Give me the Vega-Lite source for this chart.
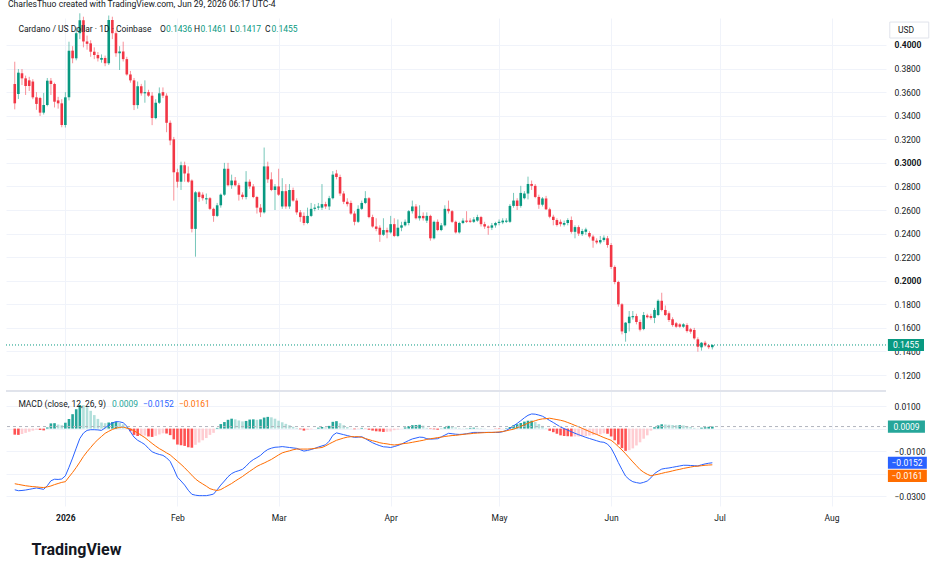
{
  "$schema": "https://vega.github.io/schema/vega-lite/v6.json",
  "background": "white",
  "padding": {"left": 5, "top": 0, "right": 0, "bottom": 0},
  "title": {"text": "TradingView", "orient": "bottom", "anchor": "start", "fontSize": 16, "fontWeight": "bold", "offset": 20, "dx": 26, "color": "#131722"},
  "data": {
    "format": {"parse": {"d": "date"}},
    "values": [
      {"d":"2025-12-18","o":0.3669,"h":0.3858,"l":0.3454,"c":0.3505,"m":-0.0272,"s":-0.0245,"hi":-0.0027},
      {"d":"2025-12-19","o":0.3584,"h":0.3796,"l":0.3542,"c":0.3765,"m":-0.0276,"s":-0.0248,"hi":-0.0028},
      {"d":"2025-12-20","o":0.3760,"h":0.3796,"l":0.3660,"c":0.3717,"m":-0.0275,"s":-0.0251,"hi":-0.0024},
      {"d":"2025-12-21","o":0.3717,"h":0.3740,"l":0.3576,"c":0.3652,"m":-0.0273,"s":-0.0254,"hi":-0.0019},
      {"d":"2025-12-22","o":0.3700,"h":0.3730,"l":0.3610,"c":0.3652,"m":-0.0270,"s":-0.0256,"hi":-0.0014},
      {"d":"2025-12-23","o":0.3690,"h":0.3710,"l":0.3540,"c":0.3556,"m":-0.0267,"s":-0.0258,"hi":-0.0009},
      {"d":"2025-12-24","o":0.3556,"h":0.3600,"l":0.3450,"c":0.3500,"m":-0.0264,"s":-0.0259,"hi":-0.0005},
      {"d":"2025-12-25","o":0.3550,"h":0.3560,"l":0.3398,"c":0.3426,"m":-0.0267,"s":-0.0261,"hi":-0.0006},
      {"d":"2025-12-26","o":0.3426,"h":0.3593,"l":0.3410,"c":0.3491,"m":-0.0270,"s":-0.0262,"hi":-0.0008},
      {"d":"2025-12-27","o":0.3491,"h":0.3720,"l":0.3480,"c":0.3697,"m":-0.0254,"s":-0.0259,"hi":0.0005},
      {"d":"2025-12-28","o":0.3697,"h":0.3720,"l":0.3576,"c":0.3669,"m":-0.0232,"s":-0.0255,"hi":0.0023},
      {"d":"2025-12-29","o":0.3669,"h":0.3680,"l":0.3470,"c":0.3519,"m":-0.0225,"s":-0.0249,"hi":0.0024},
      {"d":"2025-12-30","o":0.3530,"h":0.3560,"l":0.3460,"c":0.3505,"m":-0.0226,"s":-0.0244,"hi":0.0018},
      {"d":"2025-12-31","o":0.3505,"h":0.3540,"l":0.3302,"c":0.3321,"m":-0.0224,"s":-0.0239,"hi":0.0015},
      {"d":"2026-01-01","o":0.3321,"h":0.3600,"l":0.3300,"c":0.3556,"m":-0.0210,"s":-0.0236,"hi":0.0026},
      {"d":"2026-01-02","o":0.3556,"h":0.4028,"l":0.3530,"c":0.3952,"m":-0.0172,"s":-0.0215,"hi":0.0043},
      {"d":"2026-01-03","o":0.3952,"h":0.3990,"l":0.3845,"c":0.3887,"m":-0.0131,"s":-0.0195,"hi":0.0064},
      {"d":"2026-01-04","o":0.3887,"h":0.4150,"l":0.3870,"c":0.4100,"m":-0.0087,"s":-0.0173,"hi":0.0086},
      {"d":"2026-01-05","o":0.4100,"h":0.4269,"l":0.4050,"c":0.4210,"m":-0.0044,"s":-0.0149,"hi":0.0105},
      {"d":"2026-01-06","o":0.4210,"h":0.4240,"l":0.3980,"c":0.4030,"m":-0.0020,"s":-0.0124,"hi":0.0104},
      {"d":"2026-01-07","o":0.4030,"h":0.4080,"l":0.3960,"c":0.4010,"m":-0.0008,"s":-0.0103,"hi":0.0095},
      {"d":"2026-01-08","o":0.4014,"h":0.4040,"l":0.3900,"c":0.3943,"m":-0.0005,"s":-0.0084,"hi":0.0079},
      {"d":"2026-01-09","o":0.3943,"h":0.3980,"l":0.3880,"c":0.3915,"m":-0.0005,"s":-0.0065,"hi":0.0060},
      {"d":"2026-01-10","o":0.3915,"h":0.3940,"l":0.3860,"c":0.3887,"m":-0.0006,"s":-0.0049,"hi":0.0043},
      {"d":"2026-01-11","o":0.3875,"h":0.3920,"l":0.3850,"c":0.3890,"m":-0.0008,"s":-0.0035,"hi":0.0027},
      {"d":"2026-01-12","o":0.3890,"h":0.3910,"l":0.3820,"c":0.3845,"m":0.0003,"s":-0.0021,"hi":0.0024},
      {"d":"2026-01-13","o":0.3845,"h":0.4250,"l":0.3830,"c":0.4212,"m":0.0015,"s":-0.0012,"hi":0.0027},
      {"d":"2026-01-14","o":0.4212,"h":0.4240,"l":0.4050,"c":0.4100,"m":0.0025,"s":-0.0004,"hi":0.0029},
      {"d":"2026-01-15","o":0.4100,"h":0.4120,"l":0.3900,"c":0.3930,"m":0.0031,"s":0.0002,"hi":0.0029},
      {"d":"2026-01-16","o":0.3930,"h":0.3990,"l":0.3788,"c":0.3945,"m":0.0030,"s":0.0005,"hi":0.0025},
      {"d":"2026-01-17","o":0.3945,"h":0.4028,"l":0.3860,"c":0.3880,"m":0.0026,"s":0.0007,"hi":0.0019},
      {"d":"2026-01-18","o":0.3880,"h":0.3900,"l":0.3740,"c":0.3750,"m":0.0011,"s":0.0002,"hi":0.0009},
      {"d":"2026-01-19","o":0.3750,"h":0.3780,"l":0.3680,"c":0.3700,"m":-0.0014,"s":-0.0002,"hi":-0.0012},
      {"d":"2026-01-20","o":0.3700,"h":0.3720,"l":0.3448,"c":0.3490,"m":-0.0038,"s":-0.0010,"hi":-0.0028},
      {"d":"2026-01-21","o":0.3490,"h":0.3690,"l":0.3460,"c":0.3650,"m":-0.0052,"s":-0.0019,"hi":-0.0033},
      {"d":"2026-01-22","o":0.3650,"h":0.3670,"l":0.3570,"c":0.3590,"m":-0.0061,"s":-0.0030,"hi":-0.0031},
      {"d":"2026-01-23","o":0.3590,"h":0.3700,"l":0.3510,"c":0.3600,"m":-0.0071,"s":-0.0040,"hi":-0.0031},
      {"d":"2026-01-24","o":0.3600,"h":0.3620,"l":0.3560,"c":0.3570,"m":-0.0088,"s":-0.0053,"hi":-0.0035},
      {"d":"2026-01-25","o":0.3570,"h":0.3600,"l":0.3320,"c":0.3380,"m":-0.0103,"s":-0.0066,"hi":-0.0037},
      {"d":"2026-01-26","o":0.3380,"h":0.3540,"l":0.3370,"c":0.3510,"m":-0.0110,"s":-0.0078,"hi":-0.0032},
      {"d":"2026-01-27","o":0.3510,"h":0.3640,"l":0.3500,"c":0.3590,"m":-0.0115,"s":-0.0089,"hi":-0.0026},
      {"d":"2026-01-28","o":0.3600,"h":0.3640,"l":0.3550,"c":0.3570,"m":-0.0119,"s":-0.0098,"hi":-0.0021},
      {"d":"2026-01-29","o":0.3570,"h":0.3590,"l":0.3260,"c":0.3340,"m":-0.0130,"s":-0.0108,"hi":-0.0022},
      {"d":"2026-01-30","o":0.3340,"h":0.3360,"l":0.3150,"c":0.3190,"m":-0.0146,"s":-0.0117,"hi":-0.0029},
      {"d":"2026-01-31","o":0.3200,"h":0.3220,"l":0.2680,"c":0.2920,"m":-0.0179,"s":-0.0131,"hi":-0.0048},
      {"d":"2026-02-01","o":0.2920,"h":0.2950,"l":0.2790,"c":0.2840,"m":-0.0216,"s":-0.0145,"hi":-0.0071},
      {"d":"2026-02-02","o":0.2840,"h":0.3010,"l":0.2770,"c":0.2980,"m":-0.0233,"s":-0.0159,"hi":-0.0074},
      {"d":"2026-02-03","o":0.2980,"h":0.3010,"l":0.2840,"c":0.2910,"m":-0.0251,"s":-0.0174,"hi":-0.0077},
      {"d":"2026-02-04","o":0.2910,"h":0.2970,"l":0.2830,"c":0.2840,"m":-0.0274,"s":-0.0191,"hi":-0.0083},
      {"d":"2026-02-05","o":0.2850,"h":0.2860,"l":0.2410,"c":0.2440,"m":-0.0292,"s":-0.0207,"hi":-0.0085},
      {"d":"2026-02-06","o":0.2440,"h":0.2760,"l":0.2204,"c":0.2750,"m":-0.0296,"s":-0.0224,"hi":-0.0072},
      {"d":"2026-02-07","o":0.2750,"h":0.2760,"l":0.2670,"c":0.2710,"m":-0.0298,"s":-0.0236,"hi":-0.0062},
      {"d":"2026-02-08","o":0.2730,"h":0.2750,"l":0.2680,"c":0.2700,"m":-0.0298,"s":-0.0246,"hi":-0.0052},
      {"d":"2026-02-09","o":0.2690,"h":0.2740,"l":0.2650,"c":0.2700,"m":-0.0298,"s":-0.0256,"hi":-0.0042},
      {"d":"2026-02-10","o":0.2700,"h":0.2710,"l":0.2600,"c":0.2610,"m":-0.0295,"s":-0.0267,"hi":-0.0028},
      {"d":"2026-02-11","o":0.2610,"h":0.2620,"l":0.2500,"c":0.2550,"m":-0.0291,"s":-0.0272,"hi":-0.0019},
      {"d":"2026-02-12","o":0.2550,"h":0.2660,"l":0.2540,"c":0.2640,"m":-0.0272,"s":-0.0275,"hi":0.0003},
      {"d":"2026-02-13","o":0.2640,"h":0.2740,"l":0.2620,"c":0.2730,"m":-0.0251,"s":-0.0271,"hi":0.0020},
      {"d":"2026-02-14","o":0.2730,"h":0.3000,"l":0.2720,"c":0.2950,"m":-0.0233,"s":-0.0262,"hi":0.0029},
      {"d":"2026-02-15","o":0.2950,"h":0.3000,"l":0.2800,"c":0.2810,"m":-0.0214,"s":-0.0253,"hi":0.0039},
      {"d":"2026-02-16","o":0.2810,"h":0.2900,"l":0.2780,"c":0.2850,"m":-0.0200,"s":-0.0244,"hi":0.0044},
      {"d":"2026-02-17","o":0.2850,"h":0.2880,"l":0.2800,"c":0.2810,"m":-0.0192,"s":-0.0233,"hi":0.0041},
      {"d":"2026-02-18","o":0.2810,"h":0.2830,"l":0.2680,"c":0.2730,"m":-0.0187,"s":-0.0223,"hi":0.0036},
      {"d":"2026-02-19","o":0.2730,"h":0.2750,"l":0.2690,"c":0.2710,"m":-0.0181,"s":-0.0213,"hi":0.0032},
      {"d":"2026-02-20","o":0.2710,"h":0.2930,"l":0.2690,"c":0.2840,"m":-0.0167,"s":-0.0201,"hi":0.0034},
      {"d":"2026-02-21","o":0.2840,"h":0.2860,"l":0.2780,"c":0.2800,"m":-0.0150,"s":-0.0190,"hi":0.0040},
      {"d":"2026-02-22","o":0.2800,"h":0.2820,"l":0.2700,"c":0.2710,"m":-0.0138,"s":-0.0179,"hi":0.0041},
      {"d":"2026-02-23","o":0.2710,"h":0.2720,"l":0.2570,"c":0.2620,"m":-0.0129,"s":-0.0168,"hi":0.0039},
      {"d":"2026-02-24","o":0.2620,"h":0.2650,"l":0.2540,"c":0.2580,"m":-0.0119,"s":-0.0160,"hi":0.0041},
      {"d":"2026-02-25","o":0.2580,"h":0.3130,"l":0.2570,"c":0.2970,"m":-0.0104,"s":-0.0153,"hi":0.0049},
      {"d":"2026-02-26","o":0.2970,"h":0.3010,"l":0.2830,"c":0.2860,"m":-0.0093,"s":-0.0145,"hi":0.0052},
      {"d":"2026-02-27","o":0.2860,"h":0.2920,"l":0.2760,"c":0.2770,"m":-0.0087,"s":-0.0137,"hi":0.0050},
      {"d":"2026-02-28","o":0.2770,"h":0.2820,"l":0.2600,"c":0.2800,"m":-0.0083,"s":-0.0127,"hi":0.0044},
      {"d":"2026-03-01","o":0.2800,"h":0.2950,"l":0.2720,"c":0.2730,"m":-0.0082,"s":-0.0117,"hi":0.0035},
      {"d":"2026-03-02","o":0.2630,"h":0.2870,"l":0.2610,"c":0.2760,"m":-0.0080,"s":-0.0108,"hi":0.0028},
      {"d":"2026-03-03","o":0.2760,"h":0.2820,"l":0.2610,"c":0.2630,"m":-0.0082,"s":-0.0103,"hi":0.0021},
      {"d":"2026-03-04","o":0.2630,"h":0.2820,"l":0.2610,"c":0.2770,"m":-0.0084,"s":-0.0099,"hi":0.0015},
      {"d":"2026-03-05","o":0.2770,"h":0.2790,"l":0.2670,"c":0.2680,"m":-0.0086,"s":-0.0094,"hi":0.0008},
      {"d":"2026-03-06","o":0.2680,"h":0.2700,"l":0.2560,"c":0.2580,"m":-0.0088,"s":-0.0091,"hi":0.0003},
      {"d":"2026-03-07","o":0.2580,"h":0.2600,"l":0.2500,"c":0.2540,"m":-0.0094,"s":-0.0091,"hi":-0.0003},
      {"d":"2026-03-08","o":0.2550,"h":0.2580,"l":0.2470,"c":0.2490,"m":-0.0100,"s":-0.0091,"hi":-0.0009},
      {"d":"2026-03-09","o":0.2490,"h":0.2620,"l":0.2480,"c":0.2550,"m":-0.0097,"s":-0.0091,"hi":-0.0006},
      {"d":"2026-03-10","o":0.2550,"h":0.2660,"l":0.2540,"c":0.2610,"m":-0.0093,"s":-0.0090,"hi":-0.0003},
      {"d":"2026-03-11","o":0.2610,"h":0.2650,"l":0.2590,"c":0.2620,"m":-0.0088,"s":-0.0088,"hi":0.0000},
      {"d":"2026-03-12","o":0.2620,"h":0.2660,"l":0.2600,"c":0.2630,"m":-0.0082,"s":-0.0086,"hi":0.0004},
      {"d":"2026-03-13","o":0.2620,"h":0.2820,"l":0.2600,"c":0.2650,"m":-0.0077,"s":-0.0084,"hi":0.0007},
      {"d":"2026-03-14","o":0.2650,"h":0.2670,"l":0.2610,"c":0.2630,"m":-0.0072,"s":-0.0077,"hi":0.0005},
      {"d":"2026-03-15","o":0.2630,"h":0.2720,"l":0.2600,"c":0.2700,"m":-0.0056,"s":-0.0068,"hi":0.0012},
      {"d":"2026-03-16","o":0.2700,"h":0.2930,"l":0.2690,"c":0.2900,"m":-0.0030,"s":-0.0060,"hi":0.0030},
      {"d":"2026-03-17","o":0.2910,"h":0.2940,"l":0.2860,"c":0.2880,"m":-0.0019,"s":-0.0052,"hi":0.0033},
      {"d":"2026-03-18","o":0.2880,"h":0.2900,"l":0.2720,"c":0.2740,"m":-0.0023,"s":-0.0047,"hi":0.0024},
      {"d":"2026-03-19","o":0.2740,"h":0.2760,"l":0.2650,"c":0.2670,"m":-0.0027,"s":-0.0042,"hi":0.0015},
      {"d":"2026-03-20","o":0.2670,"h":0.2700,"l":0.2630,"c":0.2650,"m":-0.0031,"s":-0.0038,"hi":0.0007},
      {"d":"2026-03-21","o":0.2660,"h":0.2680,"l":0.2560,"c":0.2570,"m":-0.0035,"s":-0.0036,"hi":0.0001},
      {"d":"2026-03-22","o":0.2570,"h":0.2590,"l":0.2470,"c":0.2500,"m":-0.0039,"s":-0.0036,"hi":-0.0003},
      {"d":"2026-03-23","o":0.2500,"h":0.2640,"l":0.2490,"c":0.2610,"m":-0.0038,"s":-0.0036,"hi":-0.0002},
      {"d":"2026-03-24","o":0.2610,"h":0.2680,"l":0.2600,"c":0.2660,"m":-0.0036,"s":-0.0039,"hi":0.0003},
      {"d":"2026-03-25","o":0.2660,"h":0.2760,"l":0.2650,"c":0.2700,"m":-0.0045,"s":-0.0044,"hi":-0.0001},
      {"d":"2026-03-26","o":0.2700,"h":0.2710,"l":0.2530,"c":0.2540,"m":-0.0054,"s":-0.0049,"hi":-0.0005},
      {"d":"2026-03-27","o":0.2540,"h":0.2560,"l":0.2450,"c":0.2460,"m":-0.0063,"s":-0.0054,"hi":-0.0009},
      {"d":"2026-03-28","o":0.2460,"h":0.2530,"l":0.2420,"c":0.2440,"m":-0.0070,"s":-0.0058,"hi":-0.0012},
      {"d":"2026-03-29","o":0.2450,"h":0.2470,"l":0.2330,"c":0.2390,"m":-0.0076,"s":-0.0063,"hi":-0.0013},
      {"d":"2026-03-30","o":0.2390,"h":0.2530,"l":0.2380,"c":0.2430,"m":-0.0081,"s":-0.0066,"hi":-0.0015},
      {"d":"2026-03-31","o":0.2430,"h":0.2450,"l":0.2360,"c":0.2410,"m":-0.0082,"s":-0.0068,"hi":-0.0014},
      {"d":"2026-04-01","o":0.2410,"h":0.2550,"l":0.2400,"c":0.2480,"m":-0.0084,"s":-0.0071,"hi":-0.0013},
      {"d":"2026-04-02","o":0.2480,"h":0.2530,"l":0.2370,"c":0.2380,"m":-0.0080,"s":-0.0073,"hi":-0.0007},
      {"d":"2026-04-03","o":0.2380,"h":0.2520,"l":0.2370,"c":0.2450,"m":-0.0075,"s":-0.0071,"hi":-0.0004},
      {"d":"2026-04-04","o":0.2450,"h":0.2500,"l":0.2420,"c":0.2470,"m":-0.0069,"s":-0.0068,"hi":-0.0001},
      {"d":"2026-04-05","o":0.2470,"h":0.2520,"l":0.2460,"c":0.2500,"m":-0.0061,"s":-0.0066,"hi":0.0005},
      {"d":"2026-04-06","o":0.2490,"h":0.2600,"l":0.2470,"c":0.2590,"m":-0.0053,"s":-0.0064,"hi":0.0011},
      {"d":"2026-04-07","o":0.2590,"h":0.2680,"l":0.2570,"c":0.2630,"m":-0.0046,"s":-0.0061,"hi":0.0015},
      {"d":"2026-04-08","o":0.2630,"h":0.2650,"l":0.2520,"c":0.2530,"m":-0.0042,"s":-0.0058,"hi":0.0016},
      {"d":"2026-04-09","o":0.2530,"h":0.2640,"l":0.2510,"c":0.2550,"m":-0.0038,"s":-0.0055,"hi":0.0017},
      {"d":"2026-04-10","o":0.2550,"h":0.2580,"l":0.2510,"c":0.2530,"m":-0.0039,"s":-0.0052,"hi":0.0013},
      {"d":"2026-04-11","o":0.2510,"h":0.2580,"l":0.2490,"c":0.2550,"m":-0.0045,"s":-0.0048,"hi":0.0003},
      {"d":"2026-04-12","o":0.2550,"h":0.2560,"l":0.2340,"c":0.2360,"m":-0.0047,"s":-0.0045,"hi":-0.0002},
      {"d":"2026-04-13","o":0.2360,"h":0.2510,"l":0.2350,"c":0.2500,"m":-0.0046,"s":-0.0043,"hi":-0.0003},
      {"d":"2026-04-14","o":0.2500,"h":0.2520,"l":0.2420,"c":0.2430,"m":-0.0045,"s":-0.0040,"hi":-0.0005},
      {"d":"2026-04-15","o":0.2430,"h":0.2490,"l":0.2420,"c":0.2470,"m":-0.0037,"s":-0.0038,"hi":0.0001},
      {"d":"2026-04-16","o":0.2470,"h":0.2640,"l":0.2460,"c":0.2610,"m":-0.0029,"s":-0.0035,"hi":0.0006},
      {"d":"2026-04-17","o":0.2610,"h":0.2680,"l":0.2570,"c":0.2590,"m":-0.0021,"s":-0.0033,"hi":0.0012},
      {"d":"2026-04-18","o":0.2590,"h":0.2600,"l":0.2490,"c":0.2500,"m":-0.0023,"s":-0.0031,"hi":0.0008},
      {"d":"2026-04-19","o":0.2500,"h":0.2510,"l":0.2400,"c":0.2410,"m":-0.0025,"s":-0.0030,"hi":0.0005},
      {"d":"2026-04-20","o":0.2410,"h":0.2500,"l":0.2400,"c":0.2490,"m":-0.0026,"s":-0.0028,"hi":0.0002},
      {"d":"2026-04-21","o":0.2490,"h":0.2530,"l":0.2480,"c":0.2510,"m":-0.0025,"s":-0.0026,"hi":0.0001},
      {"d":"2026-04-22","o":0.2510,"h":0.2590,"l":0.2490,"c":0.2500,"m":-0.0023,"s":-0.0024,"hi":0.0001},
      {"d":"2026-04-23","o":0.2510,"h":0.2530,"l":0.2490,"c":0.2500,"m":-0.0020,"s":-0.0023,"hi":0.0003},
      {"d":"2026-04-24","o":0.2500,"h":0.2540,"l":0.2490,"c":0.2520,"m":-0.0017,"s":-0.0021,"hi":0.0004},
      {"d":"2026-04-25","o":0.2510,"h":0.2560,"l":0.2500,"c":0.2540,"m":-0.0017,"s":-0.0020,"hi":0.0003},
      {"d":"2026-04-26","o":0.2540,"h":0.2550,"l":0.2460,"c":0.2480,"m":-0.0017,"s":-0.0019,"hi":0.0002},
      {"d":"2026-04-27","o":0.2480,"h":0.2500,"l":0.2440,"c":0.2460,"m":-0.0017,"s":-0.0018,"hi":0.0001},
      {"d":"2026-04-28","o":0.2460,"h":0.2470,"l":0.2390,"c":0.2450,"m":-0.0017,"s":-0.0017,"hi":0.0000},
      {"d":"2026-04-29","o":0.2450,"h":0.2490,"l":0.2430,"c":0.2470,"m":-0.0017,"s":-0.0017,"hi":0.0000},
      {"d":"2026-04-30","o":0.2470,"h":0.2500,"l":0.2450,"c":0.2490,"m":-0.0017,"s":-0.0016,"hi":-0.0001},
      {"d":"2026-05-01","o":0.2490,"h":0.2520,"l":0.2470,"c":0.2500,"m":-0.0017,"s":-0.0015,"hi":-0.0002},
      {"d":"2026-05-02","o":0.2495,"h":0.2530,"l":0.2480,"c":0.2510,"m":-0.0014,"s":-0.0013,"hi":-0.0001},
      {"d":"2026-05-03","o":0.2500,"h":0.2530,"l":0.2490,"c":0.2510,"m":-0.0008,"s":-0.0010,"hi":0.0002},
      {"d":"2026-05-04","o":0.2500,"h":0.2650,"l":0.2490,"c":0.2635,"m":0.0001,"s":-0.0006,"hi":0.0007},
      {"d":"2026-05-05","o":0.2635,"h":0.2745,"l":0.2620,"c":0.2680,"m":0.0012,"s":-0.0003,"hi":0.0015},
      {"d":"2026-05-06","o":0.2680,"h":0.2700,"l":0.2600,"c":0.2635,"m":0.0023,"s":0.0004,"hi":0.0019},
      {"d":"2026-05-07","o":0.2635,"h":0.2805,"l":0.2620,"c":0.2745,"m":0.0035,"s":0.0010,"hi":0.0025},
      {"d":"2026-05-08","o":0.2700,"h":0.2760,"l":0.2690,"c":0.2740,"m":0.0048,"s":0.0017,"hi":0.0031},
      {"d":"2026-05-09","o":0.2740,"h":0.2883,"l":0.2690,"c":0.2821,"m":0.0059,"s":0.0024,"hi":0.0035},
      {"d":"2026-05-10","o":0.2821,"h":0.2850,"l":0.2770,"c":0.2805,"m":0.0065,"s":0.0030,"hi":0.0035},
      {"d":"2026-05-11","o":0.2805,"h":0.2820,"l":0.2700,"c":0.2711,"m":0.0064,"s":0.0035,"hi":0.0029},
      {"d":"2026-05-12","o":0.2711,"h":0.2730,"l":0.2610,"c":0.2645,"m":0.0060,"s":0.0040,"hi":0.0020},
      {"d":"2026-05-13","o":0.2645,"h":0.2710,"l":0.2630,"c":0.2698,"m":0.0055,"s":0.0043,"hi":0.0012},
      {"d":"2026-05-14","o":0.2698,"h":0.2720,"l":0.2600,"c":0.2606,"m":0.0046,"s":0.0044,"hi":0.0002},
      {"d":"2026-05-15","o":0.2606,"h":0.2620,"l":0.2530,"c":0.2543,"m":0.0036,"s":0.0046,"hi":-0.0010},
      {"d":"2026-05-16","o":0.2543,"h":0.2560,"l":0.2470,"c":0.2515,"m":0.0027,"s":0.0043,"hi":-0.0016},
      {"d":"2026-05-17","o":0.2515,"h":0.2530,"l":0.2460,"c":0.2473,"m":0.0017,"s":0.0040,"hi":-0.0023},
      {"d":"2026-05-18","o":0.2500,"h":0.2520,"l":0.2460,"c":0.2480,"m":0.0007,"s":0.0037,"hi":-0.0030},
      {"d":"2026-05-19","o":0.2475,"h":0.2510,"l":0.2460,"c":0.2490,"m":0.0000,"s":0.0033,"hi":-0.0033},
      {"d":"2026-05-20","o":0.2490,"h":0.2530,"l":0.2470,"c":0.2515,"m":-0.0007,"s":0.0027,"hi":-0.0034},
      {"d":"2026-05-21","o":0.2515,"h":0.2545,"l":0.2400,"c":0.2415,"m":-0.0014,"s":0.0021,"hi":-0.0035},
      {"d":"2026-05-22","o":0.2415,"h":0.2470,"l":0.2360,"c":0.2455,"m":-0.0021,"s":0.0014,"hi":-0.0035},
      {"d":"2026-05-23","o":0.2455,"h":0.2470,"l":0.2380,"c":0.2400,"m":-0.0027,"s":0.0008,"hi":-0.0035},
      {"d":"2026-05-24","o":0.2395,"h":0.2440,"l":0.2380,"c":0.2422,"m":-0.0033,"s":0.0001,"hi":-0.0034},
      {"d":"2026-05-25","o":0.2415,"h":0.2450,"l":0.2390,"c":0.2435,"m":-0.0039,"s":-0.0006,"hi":-0.0033},
      {"d":"2026-05-26","o":0.2405,"h":0.2420,"l":0.2360,"c":0.2375,"m":-0.0044,"s":-0.0013,"hi":-0.0031},
      {"d":"2026-05-27","o":0.2375,"h":0.2390,"l":0.2280,"c":0.2340,"m":-0.0049,"s":-0.0020,"hi":-0.0029},
      {"d":"2026-05-28","o":0.2340,"h":0.2360,"l":0.2310,"c":0.2325,"m":-0.0054,"s":-0.0026,"hi":-0.0028},
      {"d":"2026-05-29","o":0.2325,"h":0.2380,"l":0.2310,"c":0.2345,"m":-0.0059,"s":-0.0033,"hi":-0.0026},
      {"d":"2026-05-30","o":0.2345,"h":0.2385,"l":0.2330,"c":0.2365,"m":-0.0061,"s":-0.0040,"hi":-0.0021},
      {"d":"2026-05-31","o":0.2360,"h":0.2380,"l":0.2280,"c":0.2303,"m":-0.0069,"s":-0.0046,"hi":-0.0023},
      {"d":"2026-06-01","o":0.2303,"h":0.2320,"l":0.2100,"c":0.2117,"m":-0.0087,"s":-0.0052,"hi":-0.0035},
      {"d":"2026-06-02","o":0.2117,"h":0.2130,"l":0.1970,"c":0.1989,"m":-0.0117,"s":-0.0065,"hi":-0.0052},
      {"d":"2026-06-03","o":0.1989,"h":0.2000,"l":0.1780,"c":0.1800,"m":-0.0151,"s":-0.0080,"hi":-0.0071},
      {"d":"2026-06-04","o":0.1800,"h":0.1810,"l":0.1545,"c":0.1570,"m":-0.0182,"s":-0.0095,"hi":-0.0087},
      {"d":"2026-06-05","o":0.1556,"h":0.1650,"l":0.1483,"c":0.1644,"m":-0.0211,"s":-0.0112,"hi":-0.0099},
      {"d":"2026-06-06","o":0.1640,"h":0.1743,"l":0.1570,"c":0.1695,"m":-0.0226,"s":-0.0130,"hi":-0.0096},
      {"d":"2026-06-07","o":0.1690,"h":0.1743,"l":0.1670,"c":0.1700,"m":-0.0236,"s":-0.0148,"hi":-0.0088},
      {"d":"2026-06-08","o":0.1700,"h":0.1720,"l":0.1630,"c":0.1650,"m":-0.0240,"s":-0.0165,"hi":-0.0075},
      {"d":"2026-06-09","o":0.1650,"h":0.1670,"l":0.1570,"c":0.1585,"m":-0.0243,"s":-0.0182,"hi":-0.0061},
      {"d":"2026-06-10","o":0.1590,"h":0.1735,"l":0.1580,"c":0.1709,"m":-0.0239,"s":-0.0194,"hi":-0.0045},
      {"d":"2026-06-11","o":0.1705,"h":0.1720,"l":0.1680,"c":0.1690,"m":-0.0233,"s":-0.0203,"hi":-0.0030},
      {"d":"2026-06-12","o":0.1700,"h":0.1720,"l":0.1670,"c":0.1685,"m":-0.0219,"s":-0.0210,"hi":-0.0009},
      {"d":"2026-06-13","o":0.1685,"h":0.1770,"l":0.1640,"c":0.1752,"m":-0.0200,"s":-0.0206,"hi":0.0006},
      {"d":"2026-06-14","o":0.1709,"h":0.1842,"l":0.1700,"c":0.1830,"m":-0.0189,"s":-0.0203,"hi":0.0014},
      {"d":"2026-06-15","o":0.1830,"h":0.1898,"l":0.1740,"c":0.1752,"m":-0.0180,"s":-0.0199,"hi":0.0019},
      {"d":"2026-06-16","o":0.1752,"h":0.1790,"l":0.1700,"c":0.1709,"m":-0.0177,"s":-0.0195,"hi":0.0018},
      {"d":"2026-06-17","o":0.1724,"h":0.1740,"l":0.1650,"c":0.1667,"m":-0.0175,"s":-0.0192,"hi":0.0017},
      {"d":"2026-06-18","o":0.1673,"h":0.1690,"l":0.1610,"c":0.1624,"m":-0.0172,"s":-0.0188,"hi":0.0016},
      {"d":"2026-06-19","o":0.1639,"h":0.1650,"l":0.1600,"c":0.1610,"m":-0.0169,"s":-0.0184,"hi":0.0015},
      {"d":"2026-06-20","o":0.1630,"h":0.1640,"l":0.1600,"c":0.1610,"m":-0.0166,"s":-0.0181,"hi":0.0015},
      {"d":"2026-06-21","o":0.1610,"h":0.1640,"l":0.1600,"c":0.1630,"m":-0.0163,"s":-0.0177,"hi":0.0014},
      {"d":"2026-06-22","o":0.1624,"h":0.1640,"l":0.1560,"c":0.1573,"m":-0.0163,"s":-0.0174,"hi":0.0011},
      {"d":"2026-06-23","o":0.1588,"h":0.1600,"l":0.1550,"c":0.1568,"m":-0.0164,"s":-0.0171,"hi":0.0007},
      {"d":"2026-06-24","o":0.1582,"h":0.1600,"l":0.1500,"c":0.1511,"m":-0.0165,"s":-0.0168,"hi":0.0003},
      {"d":"2026-06-25","o":0.1503,"h":0.1520,"l":0.1398,"c":0.1440,"m":-0.0166,"s":-0.0167,"hi":0.0001},
      {"d":"2026-06-26","o":0.1435,"h":0.1480,"l":0.1407,"c":0.1474,"m":-0.0161,"s":-0.0165,"hi":0.0004},
      {"d":"2026-06-27","o":0.1474,"h":0.1490,"l":0.1440,"c":0.1452,"m":-0.0157,"s":-0.0163,"hi":0.0006},
      {"d":"2026-06-28","o":0.1452,"h":0.1460,"l":0.1420,"c":0.1436,"m":-0.0154,"s":-0.0162,"hi":0.0008},
      {"d":"2026-06-29","o":0.1436,"h":0.1461,"l":0.1417,"c":0.1455,"m":-0.0152,"s":-0.0161,"hi":0.0009}
    ]
  },
  "spacing": 0,
  "vconcat": [
    {
      "title": {"text": "CharlesThuo created with TradingView.com, Jun 29, 2026 06:17 UTC-4", "anchor": "start", "frame": "group", "fontSize": 8.6, "fontWeight": "normal", "offset": 4, "dx": 2},
      "width": 880,
      "height": 372,
      "layer": [
        {
          "mark": {"type": "rule", "strokeWidth": 1, "opacity": 0.55},
          "encoding": {
            "x": {
              "field": "d", "type": "temporal", "title": null,
              "scale": {"type": "utc", "nice": false, "domain": [{"year": 2025, "month": 12, "date": 16, "hours": 23, "utc": true}, {"year": 2026, "month": 8, "date": 14, "hours": 16, "utc": true}]},
              "axis": {"labels": false, "grid": true, "tickCount": 30, "values": [{"year": 2026, "month": 1, "date": 1, "utc": true}, {"year": 2026, "month": 2, "date": 1, "utc": true}, {"year": 2026, "month": 3, "date": 1, "utc": true}, {"year": 2026, "month": 4, "date": 1, "utc": true}, {"year": 2026, "month": 5, "date": 1, "utc": true}, {"year": 2026, "month": 6, "date": 1, "utc": true}, {"year": 2026, "month": 7, "date": 1, "utc": true}, {"year": 2026, "month": 8, "date": 1, "utc": true}]}
            },
            "y": {
              "field": "l", "type": "quantitative", "title": null,
              "scale": {"domain": [0.1073, 0.4229], "nice": false, "zero": false},
              "axis": {"orient": "right", "grid": true, "format": ".4f", "labelPadding": 8, "labelOverlap": false, "tickCount": 30, "values": [0.12, 0.14, 0.16, 0.18, 0.2, 0.22, 0.24, 0.26, 0.28, 0.3, 0.32, 0.34, 0.36, 0.38, 0.4],
                "labelFontWeight": {"condition": {"test": "abs(datum.value * 10 - round(datum.value * 10)) < 0.001", "value": "bold"}, "value": "normal"}}
            },
            "y2": {"field": "h"},
            "color": {"condition": {"test": "datum.c >= datum.o", "value": "#089981"}, "value": "#f23645"}
          }
        },
        {
          "mark": {"type": "bar", "width": 2.6},
          "encoding": {
            "x": {"field": "d", "type": "temporal", "title": null},
            "y": {"field": "o", "type": "quantitative", "title": null},
            "y2": {"field": "c"},
            "color": {"condition": {"test": "datum.c >= datum.o", "value": "#089981"}, "value": "#f23645"}
          }
        },
        {
          "transform": [{"filter": {"field": "d", "equal": {"year": 2026, "month": 6, "date": 29, "utc": true}}}],
          "layer": [
            {
              "mark": {"type": "rule", "strokeDash": [1, 2], "color": "#089981", "strokeWidth": 1},
              "encoding": {"y": {"field": "c", "type": "quantitative", "title": null}}
            },
            {
              "mark": {"type": "point", "shape": "M0.1,-0.32H2V0.32H0.1Z", "size": 1444, "filled": true, "opacity": 1, "color": "#089981", "strokeWidth": 0},
              "encoding": {"x": {"value": "width"}, "y": {"field": "c", "type": "quantitative", "title": null}}
            },
            {
              "mark": {"type": "text", "color": "white", "align": "center", "dx": 20},
              "encoding": {"x": {"value": "width"}, "y": {"field": "c", "type": "quantitative", "title": null}, "text": {"field": "c", "format": ".4f"}}
            },
            {
              "mark": {"type": "point", "shape": "M0.2,-0.42H2.25V0.42H0.2Z", "size": 1444, "filled": true, "opacity": 1, "fill": "white", "stroke": "#e0e3eb", "strokeWidth": 1},
              "encoding": {"x": {"value": "width"}, "y": {"datum": 0.4127}}
            },
            {
              "mark": {"type": "text", "color": "#131722", "align": "center", "dx": 20, "text": "USD"},
              "encoding": {"x": {"value": "width"}, "y": {"datum": 0.4127}}
            },
            {
              "mark": {"type": "text", "color": "#131722", "text": "Cardano / US Dollar · 1D · Coinbase"},
              "encoding": {"x": {"datum": {"year": 2025, "month": 12, "date": 19, "utc": true}, "type": "temporal"}, "y": {"datum": 0.4136}}
            },
            {"mark": {"type": "text", "color": "#131722", "text": "O", "dx": 141.5}, "encoding": {"x": {"datum": {"year": 2025, "month": 12, "date": 19, "utc": true}, "type": "temporal"}, "y": {"datum": 0.4136}}},
            {"mark": {"type": "text", "color": "#089981", "dx": 147.5}, "encoding": {"x": {"datum": {"year": 2025, "month": 12, "date": 19, "utc": true}, "type": "temporal"}, "y": {"datum": 0.4136}, "text": {"field": "o", "format": ".4f"}}},
            {"mark": {"type": "text", "color": "#131722", "text": "H", "dx": 175.5}, "encoding": {"x": {"datum": {"year": 2025, "month": 12, "date": 19, "utc": true}, "type": "temporal"}, "y": {"datum": 0.4136}}},
            {"mark": {"type": "text", "color": "#089981", "dx": 182}, "encoding": {"x": {"datum": {"year": 2025, "month": 12, "date": 19, "utc": true}, "type": "temporal"}, "y": {"datum": 0.4136}, "text": {"field": "h", "format": ".4f"}}},
            {"mark": {"type": "text", "color": "#131722", "text": "L", "dx": 211.5}, "encoding": {"x": {"datum": {"year": 2025, "month": 12, "date": 19, "utc": true}, "type": "temporal"}, "y": {"datum": 0.4136}}},
            {"mark": {"type": "text", "color": "#089981", "dx": 216.5}, "encoding": {"x": {"datum": {"year": 2025, "month": 12, "date": 19, "utc": true}, "type": "temporal"}, "y": {"datum": 0.4136}, "text": {"field": "l", "format": ".4f"}}},
            {"mark": {"type": "text", "color": "#131722", "text": "C", "dx": 246.5}, "encoding": {"x": {"datum": {"year": 2025, "month": 12, "date": 19, "utc": true}, "type": "temporal"}, "y": {"datum": 0.4136}}},
            {"mark": {"type": "text", "color": "#089981", "dx": 253}, "encoding": {"x": {"datum": {"year": 2025, "month": 12, "date": 19, "utc": true}, "type": "temporal"}, "y": {"datum": 0.4136}, "text": {"field": "c", "format": ".4f"}}}
          ]
        }
      ]
    },
    {
      "width": 880,
      "height": 115,
      "layer": [
        {
          "transform": [{"window": [{"op": "lag", "field": "hi", "as": "ph"}], "sort": [{"field": "d", "order": "ascending"}]}],
          "mark": {"type": "bar", "width": 2.6},
          "encoding": {
            "x": {
              "field": "d", "type": "temporal", "title": null,
              "scale": {"type": "utc", "nice": false, "domain": [{"year": 2025, "month": 12, "date": 16, "hours": 23, "utc": true}, {"year": 2026, "month": 8, "date": 14, "hours": 16, "utc": true}]},
              "axis": {"grid": true, "labelPadding": 7, "tickCount": 30, "values": [{"year": 2026, "month": 1, "date": 1, "utc": true}, {"year": 2026, "month": 2, "date": 1, "utc": true}, {"year": 2026, "month": 3, "date": 1, "utc": true}, {"year": 2026, "month": 4, "date": 1, "utc": true}, {"year": 2026, "month": 5, "date": 1, "utc": true}, {"year": 2026, "month": 6, "date": 1, "utc": true}, {"year": 2026, "month": 7, "date": 1, "utc": true}, {"year": 2026, "month": 8, "date": 1, "utc": true}],
                "labelExpr": "utcFormat(datum.value, '%m') == '01' ? utcFormat(datum.value, '%Y') : utcFormat(datum.value, '%b')",
                "labelFontWeight": {"condition": {"test": "utcFormat(datum.value, '%m') == '01'", "value": "bold"}, "value": "normal"}}
            },
            "y": {
              "field": "hi", "type": "quantitative", "title": null,
              "scale": {"domain": [-0.0344, 0.0167], "nice": false, "zero": false},
              "axis": {"orient": "right", "grid": true, "format": ".4f", "labelPadding": 8, "labelOverlap": false, "tickCount": 20, "values": [-0.03, -0.02, -0.01, 0, 0.01],
                "labelExpr": "abs(datum.value) < 0.0001 || abs(datum.value + 0.02) < 0.0001 ? '' : datum.label"}
            },
            "y2": {"datum": 0},
            "color": {
              "condition": [
                {"test": "datum.hi >= 0 && datum.hi >= datum.ph", "value": "#26a69a"},
                {"test": "datum.hi >= 0", "value": "#b2dfdb"},
                {"test": "datum.hi < datum.ph", "value": "#ff5252"}
              ],
              "value": "#ffcdd2"
            }
          }
        },
        {
          "mark": {"type": "line", "color": "#2962ff", "strokeWidth": 1},
          "encoding": {"x": {"field": "d", "type": "temporal", "title": null}, "y": {"field": "m", "type": "quantitative", "title": null}}
        },
        {
          "mark": {"type": "line", "color": "#ff6d00", "strokeWidth": 1},
          "encoding": {"x": {"field": "d", "type": "temporal", "title": null}, "y": {"field": "s", "type": "quantitative", "title": null}}
        },
        {
          "mark": {"type": "rule", "color": "#e0e3eb", "strokeWidth": 1},
          "encoding": {"y": {"datum": 0.0167}}
        },
        {
          "transform": [{"filter": {"field": "d", "equal": {"year": 2026, "month": 6, "date": 29, "utc": true}}}],
          "layer": [
            {
              "mark": {"type": "rule", "strokeDash": [3, 3], "color": "#b2b5be", "strokeWidth": 1},
              "encoding": {"y": {"field": "hi", "type": "quantitative", "title": null}}
            },
            {
              "mark": {"type": "text", "color": "#131722", "text": "MACD (close, 12, 26, 9)"},
              "encoding": {"x": {"datum": {"year": 2025, "month": 12, "date": 19, "utc": true}, "type": "temporal"}, "y": {"datum": 0.0111}}
            },
            {"mark": {"type": "text", "color": "#26a69a", "dx": 93.5}, "encoding": {"x": {"datum": {"year": 2025, "month": 12, "date": 19, "utc": true}, "type": "temporal"}, "y": {"datum": 0.0111}, "text": {"field": "hi", "format": ".4f"}}},
            {"mark": {"type": "text", "color": "#2962ff", "dx": 124.5}, "encoding": {"x": {"datum": {"year": 2025, "month": 12, "date": 19, "utc": true}, "type": "temporal"}, "y": {"datum": 0.0111}, "text": {"field": "m", "format": ".4f"}}},
            {"mark": {"type": "text", "color": "#ff6d00", "dx": 160.5}, "encoding": {"x": {"datum": {"year": 2025, "month": 12, "date": 19, "utc": true}, "type": "temporal"}, "y": {"datum": 0.0111}, "text": {"field": "s", "format": ".4f"}}},
            {
              "mark": {"type": "point", "shape": "M0.1,-0.32H2.05V0.32H0.1Z", "size": 1444, "filled": true, "opacity": 1, "color": "#26a69a", "strokeWidth": 0},
              "encoding": {"x": {"value": "width"}, "y": {"field": "hi", "type": "quantitative", "title": null}}
            },
            {
              "mark": {"type": "text", "color": "white", "align": "center", "dx": 20.5},
              "encoding": {"x": {"value": "width"}, "y": {"field": "hi", "type": "quantitative", "title": null}, "text": {"field": "hi", "format": ".4f"}}
            },
            {
              "mark": {"type": "point", "shape": "M0.1,-0.32H2.15V0.32H0.1Z", "size": 1444, "filled": true, "opacity": 1, "color": "#2962ff", "strokeWidth": 0},
              "encoding": {"x": {"value": "width"}, "y": {"field": "m", "type": "quantitative", "title": null}}
            },
            {
              "mark": {"type": "text", "color": "white", "align": "center", "dx": 21},
              "encoding": {"x": {"value": "width"}, "y": {"field": "m", "type": "quantitative", "title": null}, "text": {"field": "m", "format": ".4f"}}
            },
            {
              "mark": {"type": "point", "shape": "M0.1,0.26H2.15V0.9H0.1Z", "size": 1444, "filled": true, "opacity": 1, "color": "#ff6d00", "strokeWidth": 0},
              "encoding": {"x": {"value": "width"}, "y": {"field": "s", "type": "quantitative", "title": null}}
            },
            {
              "mark": {"type": "text", "color": "white", "align": "center", "dx": 21, "dy": 11},
              "encoding": {"x": {"value": "width"}, "y": {"field": "s", "type": "quantitative", "title": null}, "text": {"field": "s", "format": ".4f"}}
            }
          ]
        }
      ]
    }
  ],
  "config": {
    "view": {"stroke": null},
    "font": "Roboto",
    "axis": {"labelFont": "Roboto", "labelFontSize": 8.5, "labelColor": "#131722", "gridColor": "#f0f3fa", "gridWidth": 1, "domain": false, "ticks": false, "labelOverlap": false, "zindex": 0},
    "text": {"font": "Roboto", "fontSize": 8.5, "baseline": "middle", "align": "left"},
    "title": {"font": "Roboto", "color": "#131722"}
  }
}
